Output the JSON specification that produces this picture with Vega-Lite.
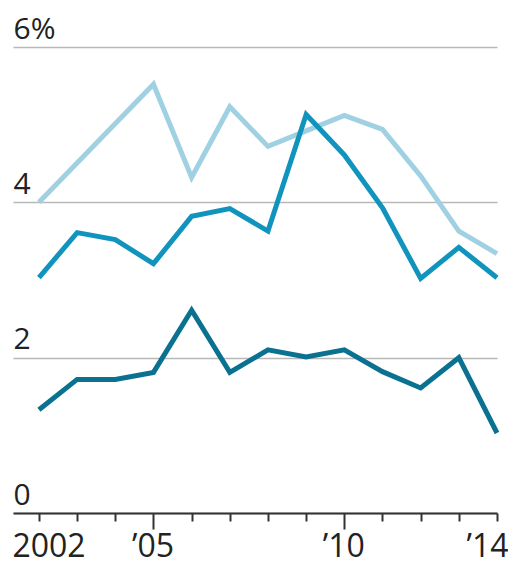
{
  "$schema": "https://vega.github.io/schema/vega-lite/v6.json",
  "width": 484,
  "height": 466,
  "autosize": {"type": "none"},
  "padding": {"left": 13, "top": 47, "right": 11, "bottom": 56},
  "background": "white",
  "config": {
    "view": {"stroke": null},
    "font": "Open Sans"
  },
  "data": {
    "values": [
      {"year": 2002, "series": "A", "value": 4.0},
      {"year": 2005, "series": "A", "value": 5.52},
      {"year": 2006, "series": "A", "value": 4.32},
      {"year": 2007, "series": "A", "value": 5.23},
      {"year": 2008, "series": "A", "value": 4.72},
      {"year": 2009, "series": "A", "value": 4.92},
      {"year": 2010, "series": "A", "value": 5.12},
      {"year": 2011, "series": "A", "value": 4.94},
      {"year": 2012, "series": "A", "value": 4.34},
      {"year": 2013, "series": "A", "value": 3.63},
      {"year": 2014, "series": "A", "value": 3.34},
      {"year": 2002, "series": "B", "value": 3.03},
      {"year": 2003, "series": "B", "value": 3.61},
      {"year": 2004, "series": "B", "value": 3.52},
      {"year": 2005, "series": "B", "value": 3.21},
      {"year": 2006, "series": "B", "value": 3.82},
      {"year": 2007, "series": "B", "value": 3.92},
      {"year": 2008, "series": "B", "value": 3.63},
      {"year": 2009, "series": "B", "value": 5.13},
      {"year": 2010, "series": "B", "value": 4.61},
      {"year": 2011, "series": "B", "value": 3.93},
      {"year": 2012, "series": "B", "value": 3.02},
      {"year": 2013, "series": "B", "value": 3.42},
      {"year": 2014, "series": "B", "value": 3.03},
      {"year": 2002, "series": "C", "value": 1.33},
      {"year": 2003, "series": "C", "value": 1.72},
      {"year": 2004, "series": "C", "value": 1.72},
      {"year": 2005, "series": "C", "value": 1.81},
      {"year": 2006, "series": "C", "value": 2.61},
      {"year": 2007, "series": "C", "value": 1.81},
      {"year": 2008, "series": "C", "value": 2.1},
      {"year": 2009, "series": "C", "value": 2.01},
      {"year": 2010, "series": "C", "value": 2.1},
      {"year": 2011, "series": "C", "value": 1.82},
      {"year": 2012, "series": "C", "value": 1.61},
      {"year": 2013, "series": "C", "value": 2.0},
      {"year": 2014, "series": "C", "value": 1.03}
    ]
  },
  "mark": {"type": "line", "strokeWidth": 5, "strokeJoin": "miter", "clip": false},
  "encoding": {
    "x": {
      "field": "year",
      "type": "quantitative",
      "scale": {"domain": [2001.32, 2014], "nice": false, "zero": false},
      "axis": {
        "title": null,
        "values": [2002, 2003, 2004, 2005, 2006, 2007, 2008, 2009, 2010, 2011, 2012, 2013, 2014],
        "grid": false,
        "domainColor": "#333333",
        "domainWidth": 2,
        "tickColor": "#333333",
        "tickWidth": 2,
        "tickSize": {"condition": {"test": "datum.value == 2005 || datum.value == 2010", "value": 16}, "value": 8},
        "labelExpr": "datum.value == 2002 ? '2002' : datum.value == 2005 ? '\u201905' : datum.value == 2010 ? '\u201910' : datum.value == 2014 ? '\u201914' : ''",
        "labelFontSize": 32,
        "labelColor": "#222222",
        "labelBaseline": "top",
        "labelPadding": {"condition": {"test": "datum.value == 2005 || datum.value == 2010", "value": 2}, "value": 10},
        "labelAlign": {"condition": [
          {"test": "datum.value == 2002", "value": "left"},
          {"test": "datum.value == 2014", "value": "right"}
        ], "value": "center"},
        "labelOffset": {"condition": [
          {"test": "datum.value == 2002", "value": -27},
          {"test": "datum.value == 2014", "value": 11}
        ], "value": -1},
        "labelOverlap": false,
        "labelFlush": false,
        "labelBound": false
      }
    },
    "y": {
      "field": "value",
      "type": "quantitative",
      "scale": {"domain": [0, 6], "nice": false},
      "axis": {
        "title": null,
        "values": [0, 2, 4, 6],
        "domain": false,
        "ticks": false,
        "grid": true,
        "gridColor": "#b8b8b8",
        "gridWidth": 1.5,
        "labelExpr": "datum.value == 6 ? '6%' : datum.label",
        "labelAlign": "left",
        "labelBaseline": "alphabetic",
        "labelPadding": 0,
        "labelOffset": -9,
        "labelFontSize": 30,
        "labelColor": "#222222"
      }
    },
    "color": {
      "field": "series",
      "type": "nominal",
      "scale": {"domain": ["A", "B", "C"], "range": ["#a0d1e2", "#1094bd", "#0b7190"]},
      "legend": null
    }
  }
}
